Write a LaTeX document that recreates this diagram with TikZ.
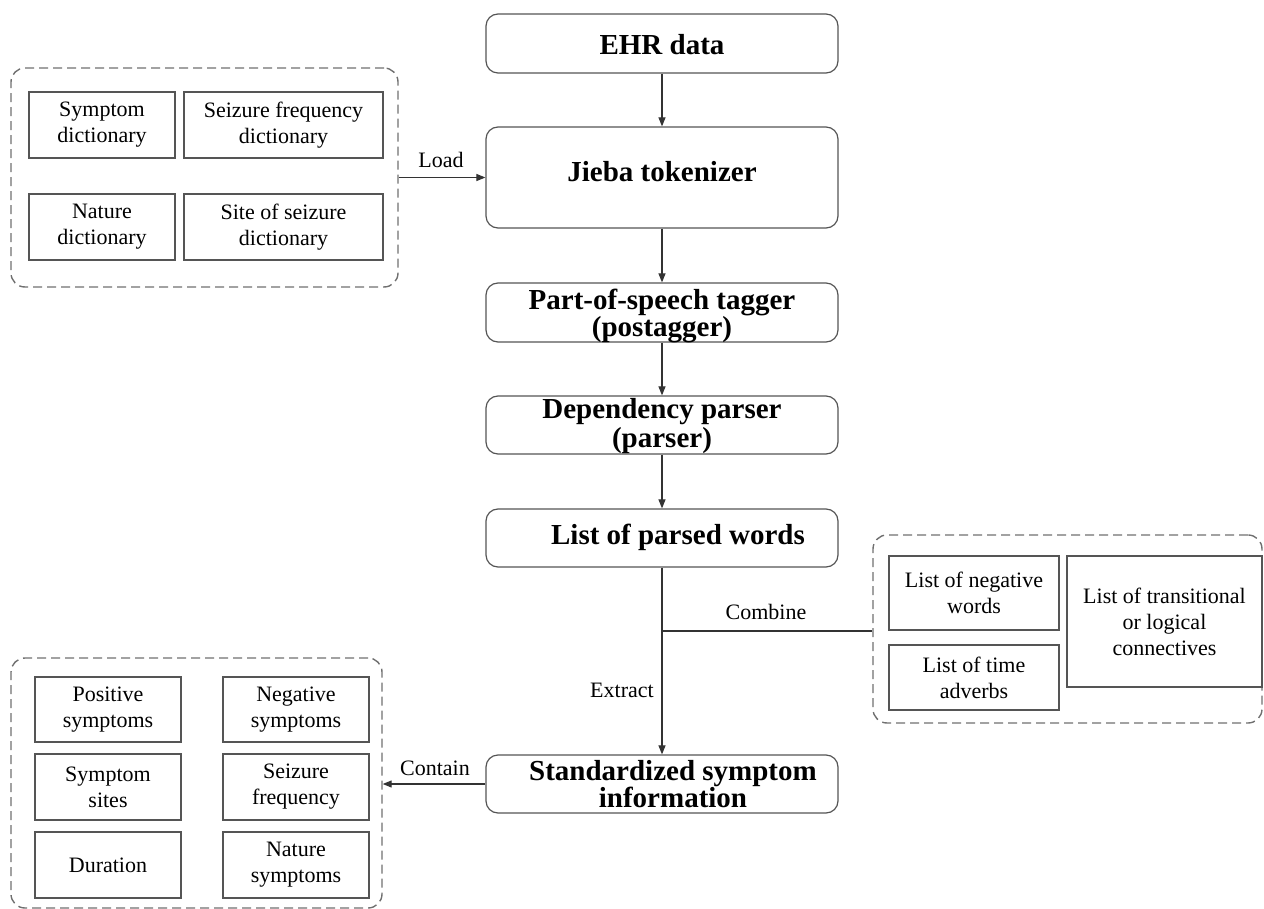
\documentclass[tikz,border=0pt]{standalone}
\usepackage{fontspec}
\setmainfont{Liberation Serif}
\usetikzlibrary{arrows.meta}
\definecolor{boxline}{HTML}{555555}
\definecolor{dashline}{HTML}{707070}
\definecolor{arrowline}{HTML}{333333}
\tikzset{
  mainbox/.style={draw=boxline, line width=1.2pt, rounded corners=12pt, minimum width=352pt, inner sep=0pt},
  maintext/.style={font=\bfseries\fontsize{29}{30}\selectfont, align=center, inner sep=0pt},
  itembox/.style={draw=boxline, line width=1.1pt, inner sep=0pt, align=center, font=\fontsize{22}{26}\selectfont},
  dashbox/.style={draw=dashline, line width=1.4pt, dash pattern=on 9pt off 5pt, rounded corners=14pt, inner sep=0pt},
  conn/.style={draw=arrowline, line width=1.1pt},
  arr/.style={conn, -{Triangle[length=9pt,width=7pt]}},
  lbl/.style={font=\fontsize{22}{26}\selectfont, inner sep=0pt}
}
\begin{document}
\begin{tikzpicture}[x=1pt,y=-1pt]
\useasboundingbox (0,0) rectangle (1264,909);
% main column boxes
\node[mainbox, minimum height=59pt] (ehr) at (662,43.5) {};
\node[maintext] (ehrT) at (662,45) {EHR data};
\node[mainbox, minimum height=101pt] (jieba) at (662,177.5) {};
\node[maintext] (jiebaT) at (662,172) {Jieba tokenizer};
\node[mainbox, minimum height=59pt] (pos) at (662,312.5) {};
\node[maintext, font=\bfseries\fontsize{29}{23}\selectfont] (posT) at (662,316) {Part-of-speech tagger\\(postagger)};
\node[mainbox, minimum height=58pt] (dep) at (662,425) {};
\node[maintext, font=\bfseries\fontsize{29}{29}\selectfont] (depT) at (662,426) {Dependency parser\\(parser)};
\node[mainbox, minimum height=58pt] (list) at (662,538) {};
\node[maintext] (listT) at (678,537) {List of parsed words};
\node[mainbox, minimum height=58pt] (std) at (662,784) {};
\node[maintext, font=\bfseries\fontsize{29}{27}\selectfont] (stdT) at (673,784) {Standardized symptom\\information};

% top-left dictionary group
\node[dashbox, minimum width=387pt, minimum height=219pt] (ldash) at (204.5,177.5) {};
\node[itembox, minimum width=146pt, minimum height=66pt] (d1) at (102,125) {Symptom\\dictionary};
\node[itembox, minimum width=199pt, minimum height=66pt] (d2) at (283.5,125) {Seizure frequency\\dictionary};
\node[itembox, minimum width=146pt, minimum height=66pt] (d3) at (102,227) {Nature\\dictionary};
\node[itembox, minimum width=199pt, minimum height=66pt] (d4) at (283.5,227) {Site of seizure\\dictionary};

% right lists group
\node[dashbox, minimum width=389pt, minimum height=188pt] (rdash) at (1067.5,629) {};
\node[itembox, minimum width=170pt, minimum height=74pt] (r1) at (974,593) {List of negative\\words};
\node[itembox, minimum width=170pt, minimum height=65pt] (r2) at (974,677.5) {List of time\\adverbs};
\node[itembox, minimum width=195pt, minimum height=131pt] (r3) at (1164.5,621.5) {List of transitional\\or logical\\connectives};

% bottom-left result group
\node[dashbox, minimum width=371pt, minimum height=250pt] (bdash) at (196.5,783) {};
\node[itembox, minimum width=146pt, minimum height=65pt] (b1) at (108,709.5) {Positive\\symptoms};
\node[itembox, minimum width=146pt, minimum height=65pt] (b2) at (296,709.5) {Negative\\symptoms};
\node[itembox, minimum width=146pt, minimum height=66pt] (b3) at (108,787) {Symptom\\sites};
\node[itembox, minimum width=146pt, minimum height=66pt] (b4) at (296,787) {Seizure\\frequency};
\node[itembox, minimum width=146pt, minimum height=66pt] (b5) at (108,865) {Duration};
\node[itembox, minimum width=146pt, minimum height=66pt] (b6) at (296,865) {Nature\\symptoms};

% connectors
\draw[arr] (ehr) -- (jieba);
\draw[arr] (jieba) -- (pos);
\draw[arr] (pos) -- (dep);
\draw[arr] (dep) -- (list);
\draw[arr] (list) -- (std);
\coordinate (junc) at (662,631);
\draw[conn] (junc) -- (junc -| rdash.west);
\draw[arr] (ldash.east) -- (jieba.west);
\draw[arr] (std.west) -- (std.west -| bdash.east);

% labels
\node[lbl] (loadL) at (441,160) {Load};
\node[lbl] (combL) at (766,612) {Combine};
\node[lbl] (extrL) at (622,690) {Extract};
\node[lbl] (contL) at (435,768) {Contain};
\end{tikzpicture}
\end{document}
